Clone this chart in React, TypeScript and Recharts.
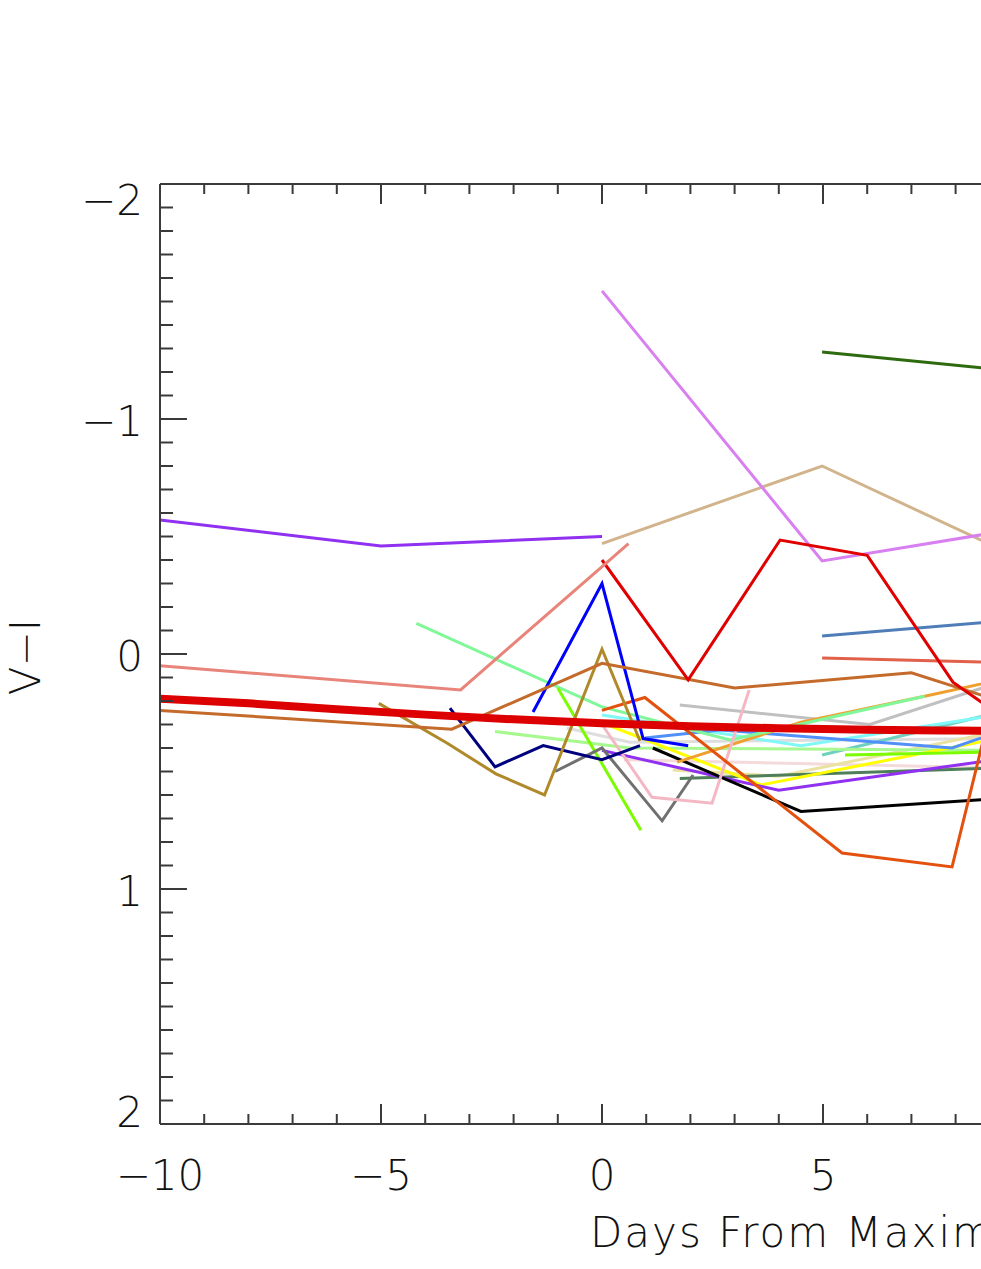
import { LineChart, Line, XAxis, YAxis } from "recharts";

type Pt = [number, number];

// [days from maximum, V-I]
const meanCurve: Pt[] = [[-10, 0.19], [-8, 0.21], [-6, 0.235], [-4, 0.258], [-2, 0.278], [0, 0.295], [2, 0.307], [4, 0.316], [6, 0.322], [8, 0.326], [10, 0.328]];
const blueViolet: Pt[] = [[-10, -0.57], [-5, -0.46], [0, -0.5]];
const salmon: Pt[] = [[-10, 0.05], [-3.2, 0.153], [0.6, -0.47]];
const chocolate: Pt[] = [[-10, 0.24], [-3.4, 0.32], [0, 0.04], [3, 0.145], [7, 0.08], [9, 0.2]];
const goldenrod: Pt[] = [[-5.05, 0.21], [-3.5, 0.38], [-2.4, 0.51], [-1.3, 0.6], [0, -0.02], [0.86, 0.37]];
const navy: Pt[] = [[-3.44, 0.23], [-2.42, 0.48], [-1.33, 0.39], [0, 0.45], [0.86, 0.39]];
const blue: Pt[] = [[-1.56, 0.247], [0, -0.3], [0.93, 0.36], [1.95, 0.39]];
const redThin: Pt[] = [[0, -0.4], [1.95, 0.11], [4.03, -0.485], [6, -0.42], [7.94, 0.12], [9, 0.26]];
const violet: Pt[] = [[0, -1.545], [4.98, -0.396], [9, -0.52]];
const tan: Pt[] = [[0, -0.47], [4.98, -0.8], [9, -0.447]];
const darkGreen: Pt[] = [[4.98, -1.285], [9, -1.21]];
const steelBlue: Pt[] = [[4.98, -0.077], [9, -0.14]];
const tomato: Pt[] = [[4.98, 0.017], [9, 0.036]];
const silver: Pt[] = [[1.76, 0.217], [6.06, 0.3], [9, 0.12]];
const pink: Pt[] = [[0, 0.3], [1.13, 0.61], [2.49, 0.635], [3.33, 0.153]];
const dimGray: Pt[] = [[-1.06, 0.5], [0, 0.4], [1.36, 0.71], [2.06, 0.515]];
const seaGreen: Pt[] = [[1.76, 0.53], [9, 0.485]];
const black: Pt[] = [[1.15, 0.4], [4.5, 0.67], [9, 0.615]];
const orangeRed: Pt[] = [[0, 0.24], [0.97, 0.185], [5.43, 0.847], [7.92, 0.906], [9, 0.08]];
const lawnGreenA: Pt[] = [[-1, 0.145], [0.88, 0.75]];
const lawnGreenB: Pt[] = [[5.5, 0.43], [9, 0.417]];
const mint: Pt[] = [[-4.2, -0.13], [0, 0.225], [2.9, 0.366], [7.3, 0.18]];
const orange: Pt[] = [[1.7, 0.46], [4.5, 0.29], [7.3, 0.18], [9, 0.11]];
const paleGreen: Pt[] = [[-2.42, 0.33], [0.63, 0.4], [9, 0.41]];
const yellow: Pt[] = [[0.1, 0.3], [3.6, 0.557], [9, 0.358]];
const khaki: Pt[] = [[1.6, 0.494], [4, 0.52], [9, 0.328]];
const purple: Pt[] = [[0, 0.41], [4, 0.58], [9, 0.447]];
const cornflower: Pt[] = [[0.97, 0.357], [2.67, 0.323], [7.92, 0.4], [9, 0.33]];
const cyan: Pt[] = [[0, 0.26], [4.5, 0.39], [8.57, 0.27], [9, 0.255]];
const teal: Pt[] = [[4.98, 0.43], [7.04, 0.336], [9, 0.247]];
const gainsboro: Pt[] = [[-0.8, 0.315], [0.63, 0.375], [9, 0.36]];
const mistyRose: Pt[] = [[0.5, 0.45], [9, 0.485]];

const xTicks = Array.from({ length: 31 }, (_, i) => i - 10);
const yTicks = Array.from({ length: 41 }, (_, i) => Math.round((-2 + i * 0.1) * 10) / 10);

const thinLines: { pts: Pt[]; color: string }[] = [
  { pts: mistyRose, color: "#F4DADA" },
  { pts: gainsboro, color: "#DEDEDE" },
  { pts: teal, color: "#70D0C0" },
  { pts: cyan, color: "#80F8F8" },
  { pts: khaki, color: "#EAE2A0" },
  { pts: paleGreen, color: "#A8F890" },
  { pts: seaGreen, color: "#4E7F58" },
  { pts: silver, color: "#C0C0C0" },
  { pts: yellow, color: "#FFFF00" },
  { pts: purple, color: "#9030F0" },
  { pts: cornflower, color: "#5090F8" },
  { pts: black, color: "#000000" },
  { pts: orange, color: "#F0A030" },
  { pts: mint, color: "#80F89A" },
  { pts: lawnGreenB, color: "#7CFC00" },
  { pts: lawnGreenA, color: "#7CFC00" },
  { pts: dimGray, color: "#707070" },
  { pts: pink, color: "#F4B8C4" },
  { pts: orangeRed, color: "#E4500E" },
  { pts: navy, color: "#00007F" },
  { pts: blue, color: "#0000FF" },
  { pts: goldenrod, color: "#B08A2A" },
  { pts: chocolate, color: "#C46A2A" },
  { pts: tomato, color: "#E0604A" },
  { pts: steelBlue, color: "#4F7DB8" },
  { pts: darkGreen, color: "#2E6A0E" },
  { pts: tan, color: "#D2B48C" },
  { pts: violet, color: "#D880F0" },
  { pts: redThin, color: "#E00000" },
  { pts: salmon, color: "#E8847A" },
  { pts: blueViolet, color: "#9030F0" },
];

const AXIS = "#3a3a3a";
const FONT = "'DejaVu Sans', sans-serif";

const rows = (pts: Pt[]) => pts.map(([d, v]) => ({ d, v }));
const fmt = (v: number) => (v < 0 ? "\u2212" + Math.abs(v) : String(v));

const BottomTick = ({ x, y, payload }: any) => {
  const v = payload.value;
  const major = v % 5 === 0;
  return (
    <g>
      <line x1={x} x2={x} y1={y} y2={y - (major ? 20 : 10)} stroke={AXIS} strokeWidth={2} />
      {major && (
        <text x={x} y={y + 66} textAnchor="middle" fontSize={42} fontFamily={FONT} fontWeight={200} fill="#111">
          {fmt(v)}
        </text>
      )}
    </g>
  );
};

const TopTick = ({ x, y, payload }: any) => {
  const major = payload.value % 5 === 0;
  return <line x1={x} x2={x} y1={y} y2={y + (major ? 20 : 10)} stroke={AXIS} strokeWidth={2} />;
};

const LeftTick = ({ x, y, payload }: any) => {
  const v = payload.value;
  const major = Number.isInteger(v);
  const shift = v === -2 ? 14 : v === 2 ? -14 : 0;
  return (
    <g>
      <line x1={x} x2={x + (major ? 27 : 13)} y1={y} y2={y} stroke={AXIS} strokeWidth={2} />
      {major && (
        <text x={x - 17} y={y + 17 + shift} textAnchor="end" fontSize={42} fontFamily={FONT} fontWeight={200} fill="#111">
          {fmt(v)}
        </text>
      )}
    </g>
  );
};

const App = () => {
  return (
    <div style={{ position: "absolute", left: 8, top: 8, width: 973, height: 1253, overflow: "hidden" }}>
      <LineChart width={1500} height={1253} margin={{ top: 175, right: 22, bottom: 37, left: 0 }}>
        <XAxis
          dataKey="d"
          type="number"
          domain={[-10, 20]}
          ticks={xTicks}
          interval={0}
          allowDataOverflow
          tickSize={0}
          tickMargin={0}
          tickLine={false}
          tick={BottomTick}
          height={100}
          axisLine={{ stroke: AXIS, strokeWidth: 2 }}
          label={() => (
            <text x={582} y={1239} fontSize={42} fontFamily={FONT} fontWeight={200} letterSpacing={2} fill="#111">
              Days From Maximum
            </text>
          )}
        />
        <XAxis
          xAxisId="top"
          orientation="top"
          dataKey="d"
          type="number"
          domain={[-10, 20]}
          ticks={xTicks}
          interval={0}
          allowDataOverflow
          tickSize={0}
          tickMargin={0}
          tickLine={false}
          tick={TopTick}
          height={1}
          axisLine={{ stroke: AXIS, strokeWidth: 2 }}
        />
        <YAxis
          type="number"
          domain={[-2, 2]}
          reversed
          ticks={yTicks}
          interval={0}
          allowDataOverflow
          tickSize={0}
          tickMargin={0}
          tickLine={false}
          tick={LeftTick}
          width={152}
          axisLine={{ stroke: AXIS, strokeWidth: 2 }}
          label={() => (
            <text x={32} y={649} transform="rotate(-90 32 649)" textAnchor="middle" fontSize={42} fontFamily={FONT} fontWeight={200} fill="#111">
              V−I
            </text>
          )}
        />
        {thinLines.map((s, i) => (
          <Line
            key={i}
            data={rows(s.pts)}
            dataKey="v"
            type="linear"
            stroke={s.color}
            strokeWidth={3}
            dot={false}
            isAnimationActive={false}
          />
        ))}
        <Line
          data={rows(meanCurve)}
          dataKey="v"
          type="monotone"
          stroke="#DD0000"
          strokeWidth={8}
          dot={false}
          isAnimationActive={false}
        />
      </LineChart>
    </div>
  );
};

export default App;
